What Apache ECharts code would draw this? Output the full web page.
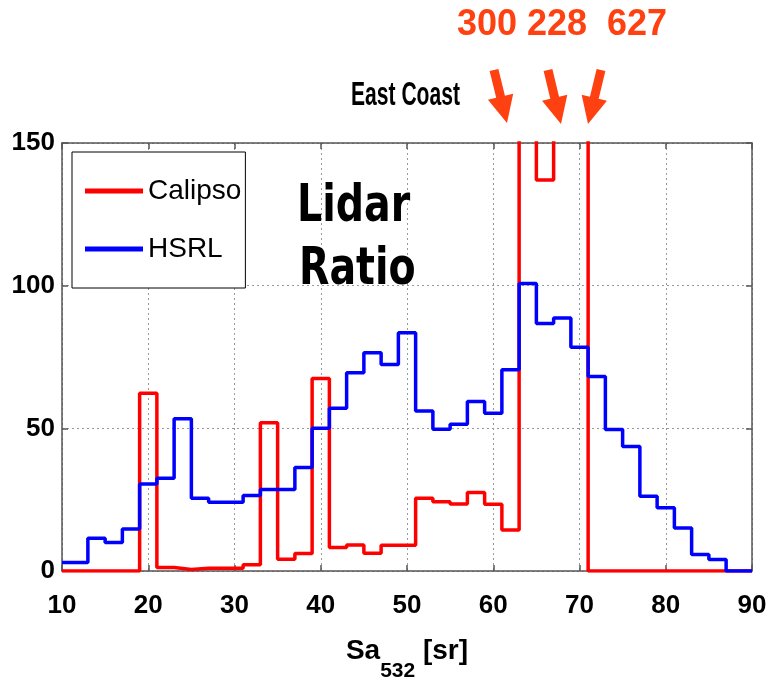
<!DOCTYPE html>
<html><head><meta charset="utf-8">
<script src="https://cdn.jsdelivr.net/npm/echarts@6/dist/echarts.min.js"></script>
<style>html,body{margin:0;padding:0;background:#fff;overflow:hidden}#c{width:775px;height:684px}</style>
</head><body><div id="c"></div>
<script>
// ---- data ----
const binCenters = [10,12,14,16,18,20,22,24,26,28,30,32,34,36,38,40,42,44,46,48,50,52,54,56,58,60,62,64,66,68,70,72,74,76,78,80,82,84,86,88];
const calipso = [0,0,0,0,0,62.3,1.2,0.5,1,1,1,2.2,52,4.1,6.1,67.5,8.2,9.1,6.2,9,9,25.5,24.3,23.5,27.5,23.4,14.4,300,137,228,627,0,0,0,0,0,0,0,0,0];
const hsrl = [3,3,11.5,10,14.7,30.5,32.5,53.4,25.5,24.1,24.1,26.5,28.6,28.6,36.3,50,57,69.5,76.5,72.4,83.5,56.1,49.7,51.4,59.4,55.3,70.5,100.8,86.7,88.7,78.4,68.2,49.6,43.6,26.2,22.2,15.1,5.8,4.0,0];
const seriesNames = ['Calipso','HSRL'];
const peakLabels = ['300','228','627'];
const xMin = 10, xMax = 90, xStep = 10, yMin = 0, yMax = 150, yStep = 50, binWidth = 2;

const SANS = "'Liberation Sans',Arial,sans-serif";
const ORANGE = '#ff4010';

function stepData(vals){
  const pts = binCenters.map((c,i)=>[Math.max(c - binWidth/2, xMin), vals[i]]);
  pts.push([xMax, vals[vals.length-1]]);
  return pts;
}
function arrow(x0,y0,x1,y1,sw,hw,hl){
  const L = Math.hypot(x1-x0,y1-y0), dx=(x1-x0)/L, dy=(y1-y0)/L, nx=-dy, ny=dx;
  const bx = x1-dx*hl, by = y1-dy*hl;
  return [[x0+nx*sw/2,y0+ny*sw/2],[bx+nx*sw/2,by+ny*sw/2],[bx+nx*hw/2,by+ny*hw/2],[x1,y1],
          [bx-nx*hw/2,by-ny*hw/2],[bx-nx*sw/2,by-ny*sw/2],[x0-nx*sw/2,y0-ny*sw/2]];
}

const axisLineStyle = {color:'#555', width:1.5};
const splitLineStyle = {show:true, lineStyle:{type:[2,3], color:'#999', width:1}};

const chart = echarts.init(document.getElementById('c'));
chart.setOption({
  animation:false,
  backgroundColor:'#fff',
  grid:{left:62, right:23, top:143, bottom:113, containLabel:false, outerBoundsMode:'none'},
  legend:{
    data:seriesNames, orient:'vertical', left:72, top:152,
    icon:'rect', itemWidth:58, itemHeight:5, itemGap:18,
    padding:[19,4,19,13], borderColor:'#000', borderWidth:1, backgroundColor:'#fff',
    textStyle:{fontSize:28, fontFamily:SANS, color:'#000', lineHeight:40}
  },
  xAxis:[{
    type:'value', min:xMin, max:xMax, interval:xStep, position:'bottom',
    axisLine:{show:true, onZero:false, lineStyle:axisLineStyle},
    axisTick:{show:true, inside:true, length:6, lineStyle:axisLineStyle},
    axisLabel:{fontSize:26, fontWeight:'bold', fontFamily:SANS, color:'#000', margin:22},
    splitLine:splitLineStyle,
    name:'{a|Sa}{s|532}{a| [sr]}', nameLocation:'middle', nameGap:49,
    nameTextStyle:{rich:{
      a:{fontSize:28, fontWeight:'bold', fontFamily:SANS, color:'#000', lineHeight:62, verticalAlign:'middle'},
      s:{fontSize:21, fontWeight:'bold', fontFamily:SANS, color:'#000', lineHeight:21, verticalAlign:'bottom'}
    }}
  },{
    type:'value', min:xMin, max:xMax, interval:xStep, position:'top',
    axisLine:{show:true, onZero:false, lineStyle:axisLineStyle},
    axisTick:{show:true, inside:true, length:6, lineStyle:axisLineStyle},
    axisLabel:{show:false}, splitLine:{show:false}
  }],
  yAxis:[{
    type:'value', min:yMin, max:yMax, interval:yStep, position:'left',
    axisLine:{show:true, onZero:false, lineStyle:axisLineStyle},
    axisTick:{show:true, inside:true, length:6, lineStyle:axisLineStyle},
    axisLabel:{fontSize:26, fontWeight:'bold', fontFamily:SANS, color:'#000', margin:7},
    splitLine:splitLineStyle
  },{
    type:'value', min:yMin, max:yMax, interval:yStep, position:'right',
    axisLine:{show:true, onZero:false, lineStyle:axisLineStyle},
    axisTick:{show:true, inside:true, length:6, lineStyle:axisLineStyle},
    axisLabel:{show:false}, splitLine:{show:false}
  }],
  series:[
    {name:seriesNames[0], type:'line', step:'end', symbol:'none', clip:true, data:stepData(calipso),
     color:'#ff0000', lineStyle:{color:'#ff0000', width:3.5}, z:3},
    {name:seriesNames[1], type:'line', step:'end', symbol:'none', clip:true, data:stepData(hsrl),
     color:'#0000ff', lineStyle:{color:'#0000ff', width:3.5}, z:4}
  ],
  graphic:[
    {type:'text', x:297, y:207, scaleX:0.76, z:10,
     style:{text:'Lidar', font:"bold 52px 'DejaVu Sans', sans-serif", fill:'#000', textAlign:'left', textVerticalAlign:'middle'}},
    {type:'text', x:299, y:270, scaleX:0.76, z:10,
     style:{text:'Ratio', font:"bold 52px 'DejaVu Sans', sans-serif", fill:'#000', textAlign:'left', textVerticalAlign:'middle'}},
    {type:'text', x:351, y:96, scaleX:0.62, z:10,
     style:{text:'East Coast', font:"bold 34px " + SANS, fill:'#000', textAlign:'left', textVerticalAlign:'middle'}},
    {type:'text', x:487, y:25, z:10,
     style:{text:peakLabels[0], font:"bold 36px " + SANS, fill:ORANGE, textAlign:'center', textVerticalAlign:'middle'}},
    {type:'text', x:557, y:25, z:10,
     style:{text:peakLabels[1], font:"bold 36px " + SANS, fill:ORANGE, textAlign:'center', textVerticalAlign:'middle'}},
    {type:'text', x:637, y:25, z:10,
     style:{text:peakLabels[2], font:"bold 36px " + SANS, fill:ORANGE, textAlign:'center', textVerticalAlign:'middle'}},
    {type:'polygon', z:10, shape:{points:arrow(494,70,507,123,9,26,27)}, style:{fill:ORANGE}},
    {type:'polygon', z:10, shape:{points:arrow(548,70,561,124,9,26,27)}, style:{fill:ORANGE}},
    {type:'polygon', z:10, shape:{points:arrow(601,70,588,124,9,26,27)}, style:{fill:ORANGE}}
  ]
});
</script>
</body></html>
